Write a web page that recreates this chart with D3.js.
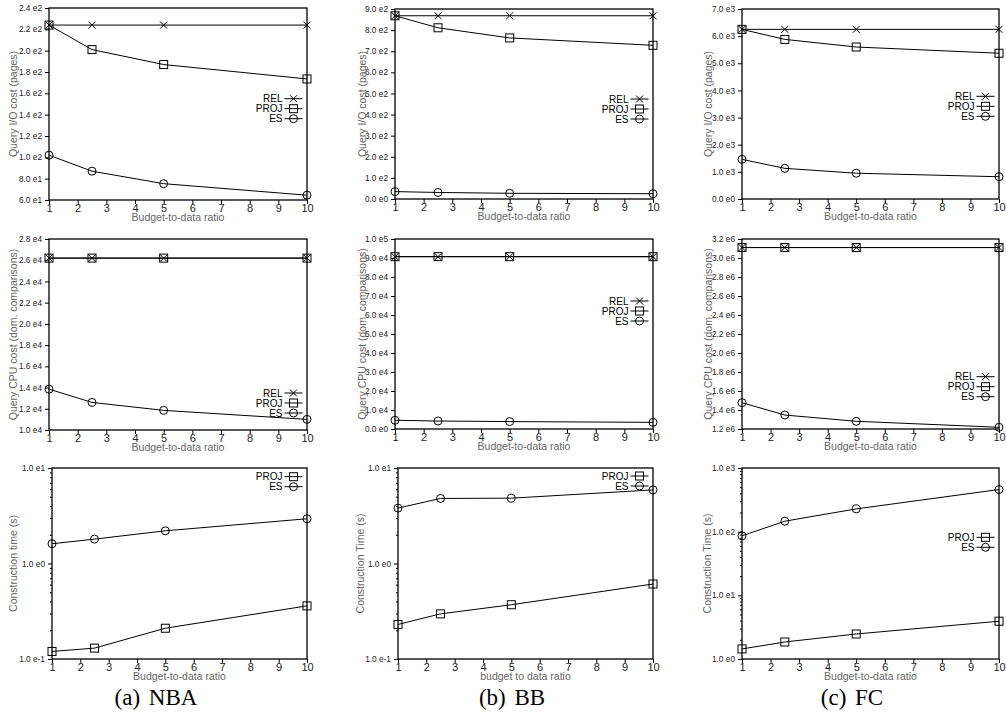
<!DOCTYPE html>
<html>
<head>
<meta charset="utf-8">
<script src="https://cdn.jsdelivr.net/npm/d3@7"></script>
<style>
  body { margin: 0; background: #fff; }
  svg { display: block; }
</style>
</head>
<body>
<div id="chart"></div>
<script>
// x values (budget-to-data ratio)
const ratios = [1, 2.5, 5, 10];
const xTicks = [1, 2, 3, 4, 5, 6, 7, 8, 9, 10];

// (a) NBA
const nbaIoREL = [224, 224, 224, 224];
const nbaIoPROJ = [224, 201, 187, 173.5];
const nbaIoES = [102, 87, 75.3, 64.5];
const nbaCpuREL = [26200, 26200, 26200, 26200];
const nbaCpuPROJ = [26200, 26200, 26200, 26200];
const nbaCpuES = [13850, 12600, 11850, 11000];
const nbaBuildPROJ = [0.12, 0.13, 0.21, 0.36];
const nbaBuildES = [1.61, 1.80, 2.20, 2.94];

// (b) BB
const bbIoREL = [868, 868, 868, 868];
const bbIoPROJ = [868, 811, 763, 728];
const bbIoES = [35, 31, 27, 25];
const bbCpuREL = [90700, 90700, 90700, 90700];
const bbCpuPROJ = [90700, 90700, 90700, 90700];
const bbCpuES = [4600, 4200, 3900, 3500];
const bbBuildPROJ = [0.23, 0.297, 0.37, 0.61];
const bbBuildES = [3.8, 4.8, 4.83, 5.9];

// (c) FC
const fcIoREL = [6250, 6250, 6250, 6250];
const fcIoPROJ = [6250, 5880, 5600, 5370];
const fcIoES = [1460, 1130, 950, 820];
const fcCpuREL = [3.11e6, 3.11e6, 3.11e6, 3.11e6];
const fcCpuPROJ = [3.11e6, 3.11e6, 3.11e6, 3.11e6];
const fcCpuES = [1.477e6, 1.347e6, 1.281e6, 1.218e6];
const fcBuildPROJ = [1.44, 1.85, 2.47, 3.92];
const fcBuildES = [86, 146, 228, 459];

// y ticks per panel
const ioTicksNba = d3.range(60, 241, 20);
const ioTicksBb = d3.range(0, 901, 100);
const ioTicksFc = d3.range(0, 7001, 1000);
const cpuTicksNba = d3.range(10000, 28001, 2000);
const cpuTicksBb = d3.range(0, 100001, 10000);
const cpuTicksFc = d3.range(12, 33, 2).map(d => d * 1e5);
const buildTicksSmall = [0.1, 1, 10];
const buildTicksFc = [1, 10, 100, 1000];

const captions = ["(a) NBA", "(b) BB", "(c) FC"];

const titleIo = "Query I/O cost (pages)";
const titleCpu = "Query CPU cost (dom. comparisons)";

const panels = [
  { l: 49, r: 307, t: 8, b: 200, ticks: ioTicksNba, ytitle: titleIo, tx: 13, legY: 98.7,
    series: [["REL", nbaIoREL], ["PROJ", nbaIoPROJ], ["ES", nbaIoES]] },
  { l: 395, r: 653, t: 9, b: 199, ticks: ioTicksBb, ytitle: titleIo, tx: 362, legY: 99,
    series: [["REL", bbIoREL], ["PROJ", bbIoPROJ], ["ES", bbIoES]] },
  { l: 742, r: 999, t: 9, b: 199, ticks: ioTicksFc, ytitle: titleIo, tx: 708, legY: 96.3,
    series: [["REL", fcIoREL], ["PROJ", fcIoPROJ], ["ES", fcIoES]] },
  { l: 49, r: 307, t: 239, b: 430, ticks: cpuTicksNba, ytitle: titleCpu, tx: 13, legY: 393,
    series: [["REL", nbaCpuREL], ["PROJ", nbaCpuPROJ], ["ES", nbaCpuES]] },
  { l: 395, r: 653, t: 239, b: 429, ticks: cpuTicksBb, ytitle: titleCpu, tx: 362, legY: 301,
    series: [["REL", bbCpuREL], ["PROJ", bbCpuPROJ], ["ES", bbCpuES]] },
  { l: 742, r: 999, t: 239, b: 429, ticks: cpuTicksFc, ytitle: titleCpu, tx: 708, legY: 376.7,
    series: [["REL", fcCpuREL], ["PROJ", fcCpuPROJ], ["ES", fcCpuES]] },
  { l: 52, r: 307, t: 468, b: 659, ticks: buildTicksSmall, log: true, ytitle: "Construction time (s)", tx: 13, legY: 476.7,
    series: [["PROJ", nbaBuildPROJ], ["ES", nbaBuildES]] },
  { l: 398, r: 653, t: 468, b: 659, ticks: buildTicksSmall, log: true, ytitle: "Construction Time (s)", tx: 360, legY: 476,
    xtitle: "budget to data ratio",
    series: [["PROJ", bbBuildPROJ], ["ES", bbBuildES]] },
  { l: 742, r: 999, t: 468, b: 659, ticks: buildTicksFc, log: true, ytitle: "Construction Time (s)", tx: 707, legY: 537.3,
    series: [["PROJ", fcBuildPROJ], ["ES", fcBuildES]] }
];

const W = 1006, H = 721;
const font = "'Liberation Sans', Arial, Helvetica, sans-serif";

const svg = d3.select("#chart").append("svg")
  .attr("width", W)
  .attr("height", H)
  .style("font-family", font);

// "2.4 e2" style labels
function sciFmt(v) {
  if (v === 0) return "0.0 e0";
  const e = Math.floor(Math.log10(Math.abs(v)) + 1e-9);
  const m = v / Math.pow(10, e);
  return m.toFixed(1) + " e" + e;
}

function marker(g, type, x, y) {
  if (type === "REL") {
    g.append("path")
      .attr("d", `M${x - 3.5},${y - 3.5}L${x + 3.5},${y + 3.5}M${x - 3.5},${y + 3.5}L${x + 3.5},${y - 3.5}`)
      .attr("stroke", "#000").attr("stroke-width", 1).attr("fill", "none");
  } else if (type === "PROJ") {
    g.append("rect")
      .attr("x", x - 4).attr("y", y - 4).attr("width", 8).attr("height", 8)
      .attr("stroke", "#000").attr("stroke-width", 1).attr("fill", "none");
  } else {
    g.append("circle")
      .attr("cx", x).attr("cy", y).attr("r", 4)
      .attr("stroke", "#000").attr("stroke-width", 1).attr("fill", "none");
  }
}

panels.forEach(p => {
  const g = svg.append("g");

  const x = d3.scaleLinear().domain([1, 10]).range([p.l, p.r]);
  const y = p.log
    ? d3.scaleLog().domain([p.ticks[0], p.ticks[p.ticks.length - 1]]).range([p.b, p.t])
    : d3.scaleLinear().domain([p.ticks[0], p.ticks[p.ticks.length - 1]]).range([p.b, p.t]);

  // y axis (ticks outward)
  const ya = g.append("g")
    .attr("transform", `translate(${p.l},0)`)
    .call(d3.axisLeft(y).tickValues(p.ticks).tickFormat(sciFmt).tickSize(4).tickPadding(3).tickSizeOuter(0));
  ya.select(".domain").remove();
  ya.selectAll("text").attr("font-size", 8.3).attr("fill", "#222").style("font-family", font);

  if (p.log) {
    const minor = [];
    for (let i = 0; i < p.ticks.length - 1; i++) {
      for (let k = 2; k <= 9; k++) minor.push(p.ticks[i] * k);
    }
    const ym = g.append("g")
      .attr("transform", `translate(${p.l},0)`)
      .call(d3.axisLeft(y).tickValues(minor).tickFormat("").tickSize(2).tickSizeOuter(0));
    ym.select(".domain").remove();
  }

  // x axis
  const xa = g.append("g")
    .attr("transform", `translate(0,${p.b})`)
    .call(d3.axisBottom(x).tickValues(xTicks).tickFormat(d3.format("d")).tickSize(4).tickPadding(0).tickSizeOuter(0));
  xa.select(".domain").remove();
  xa.selectAll("text").attr("font-size", 11).attr("fill", "#222").style("font-family", font);

  // frame
  g.append("rect")
    .attr("x", p.l).attr("y", p.t)
    .attr("width", p.r - p.l).attr("height", p.b - p.t)
    .attr("fill", "none").attr("stroke", "#000").attr("stroke-width", 1.3);

  // titles
  g.append("text")
    .attr("x", (p.l + p.r) / 2).attr("y", p.b + 21)
    .attr("text-anchor", "middle")
    .attr("font-size", 10.5).attr("fill", "#666")
    .text(p.xtitle || "Budget-to-data ratio");

  g.append("text")
    .attr("transform", `translate(${p.tx},${(p.t + p.b) / 2}) rotate(-90)`)
    .attr("text-anchor", "middle")
    .attr("dominant-baseline", "central")
    .attr("font-size", 10.5).attr("fill", "#666")
    .text(p.ytitle);

  // series
  const line = d3.line().x((d, i) => x(ratios[i])).y(d => y(d));
  p.series.forEach(([name, vals]) => {
    g.append("path")
      .datum(vals)
      .attr("d", line)
      .attr("fill", "none").attr("stroke", "#000").attr("stroke-width", 1);
    vals.forEach((v, i) => marker(g, name, x(ratios[i]), y(v)));
  });

  // legend
  const mx = p.r - 13.5;
  p.series.forEach(([name], i) => {
    const ly = p.legY + i * 10;
    g.append("text")
      .attr("x", mx - 11).attr("y", ly)
      .attr("text-anchor", "end")
      .attr("dominant-baseline", "central")
      .attr("font-size", 10).attr("fill", "#000")
      .text(name);
    g.append("line")
      .attr("x1", mx - 9).attr("x2", mx + 9)
      .attr("y1", ly).attr("y2", ly)
      .attr("stroke", "#000").attr("stroke-width", 1);
    marker(g, name, mx, ly);
  });
});

// captions
const capX = [156, 512, 852];
captions.forEach((c, i) => {
  svg.append("text")
    .attr("x", capX[i]).attr("y", 705)
    .attr("text-anchor", "middle")
    .attr("font-family", "'Liberation Serif', 'Times New Roman', serif")
    .attr("font-size", 23)
    .style("word-spacing", "3px")
    .attr("fill", "#000")
    .text(c);
});
</script>
</body>
</html>
